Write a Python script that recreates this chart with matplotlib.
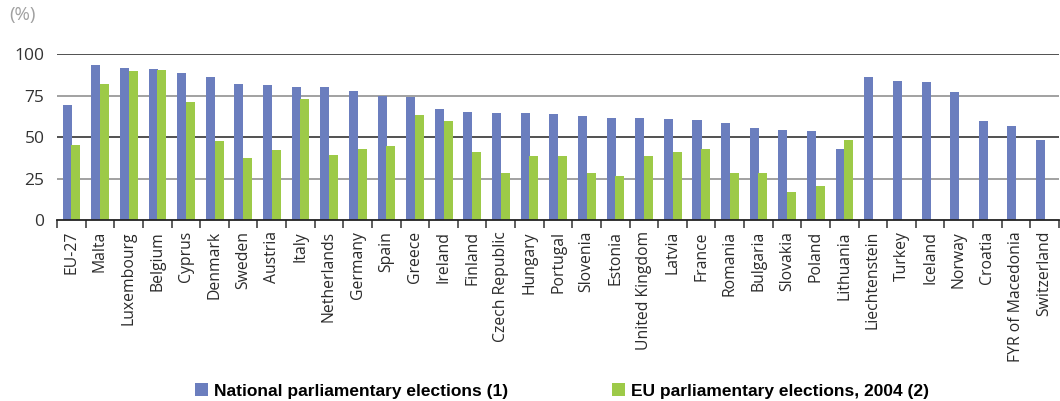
import matplotlib
matplotlib.use("Agg")
import matplotlib.pyplot as plt
import numpy as np

countries = ["EU-27", "Malta", "Luxembourg", "Belgium", "Cyprus", "Denmark", "Sweden",
             "Austria", "Italy", "Netherlands", "Germany", "Spain", "Greece", "Ireland",
             "Finland", "Czech Republic", "Hungary", "Portugal", "Slovenia", "Estonia",
             "United Kingdom", "Latvia", "France", "Romania", "Bulgaria", "Slovakia",
             "Poland", "Lithuania", "Liechtenstein", "Turkey", "Iceland", "Norway",
             "Croatia", "FYR of Macedonia", "Switzerland"]
national = [69.3, 93.4, 91.6, 91.0, 88.6, 86.1, 81.9, 81.3, 80.1, 80.1, 77.7, 75.1, 74.1,
            66.9, 65.1, 64.5, 64.5, 63.9, 62.7, 61.5, 61.5, 60.8, 60.2, 58.4, 55.4, 54.2,
            53.6, 42.8, 86.1, 83.7, 83.1, 77.1, 59.6, 56.6, 48.2]
eu2004 = [45.2, 81.9, 89.8, 90.4, 71.1, 47.6, 37.3, 42.2, 72.9, 39.2, 42.8, 44.6, 63.3,
          59.6, 41.0, 28.3, 38.6, 38.6, 28.3, 26.5, 38.6, 41.0, 42.8, 28.3, 28.3, 16.9,
          20.5, 48.2, np.nan, np.nan, np.nan, np.nan, np.nan, np.nan, np.nan]
series_labels = ["National parliamentary elections (1)", "EU parliamentary elections, 2004 (2)"]
yticks = [0, 25, 50, 75, 100]

BLUE = "#6b7ebe"
GREEN = "#9dca48"
font_main = ["Open Sans", "DejaVu Sans"]
font_leg = ["Liberation Sans Narrow", "Liberation Sans", "DejaVu Sans"]

fig = plt.figure(figsize=(10.6, 4.01), dpi=100)
ax = fig.add_axes([57/1060, (401-220)/401, (1059-57)/1060, (220-54.3)/401])

x = np.arange(len(countries))
w = 0.315
b1 = ax.bar(x - 0.145, national, width=w, color=BLUE, zorder=3, label=series_labels[0])
b2 = ax.bar(x + 0.16, eu2004, width=w, color=GREEN, zorder=3, label=series_labels[1])

ax.set_xlim(-0.5, len(countries) - 0.5)
ax.set_ylim(0, 100)
ax.set_yticks(yticks)
ax.set_yticklabels([str(v) for v in yticks], fontfamily=font_main, fontsize=12.5, color="#333333")
ax.tick_params(axis="y", length=0, pad=9)
for v in yticks[1:]:
    col = "#222222" if v in (50, 100) else "#888888"
    ax.axhline(v, color=col, linewidth=1.1, zorder=1)

ax.set_xticks(x)
ax.set_xticklabels(countries, rotation=90, fontfamily=font_main, fontsize=11.3, color="#2a2a2a")
ax.tick_params(axis="x", which="major", length=0, pad=8)
ax.set_xticks(np.arange(len(countries) + 1) - 0.5, minor=True)
ax.tick_params(axis="x", which="minor", length=6, width=1.1, color="#333333", direction="out")

for s in ["top", "right", "left"]:
    ax.spines[s].set_visible(False)
ax.spines["bottom"].set_color("#222222")
ax.spines["bottom"].set_linewidth(1.3)
ax.spines["bottom"].set_zorder(4)

fig.text(9/1060, (401-15)/401, "(%)", fontsize=13.5, color="#a0a0a0", fontfamily=font_main,
         va="center", ha="left")

fig.legend(handles=[b1, b2], labels=series_labels, loc="center",
           bbox_to_anchor=(562/1060, 10/401), ncol=2, frameon=False,
           prop={"family": font_leg, "weight": "bold", "size": 12.5},
           handlelength=0.75, handleheight=0.75, handletextpad=0.35, columnspacing=6.0)

fig.savefig("out.png", dpi=100)
